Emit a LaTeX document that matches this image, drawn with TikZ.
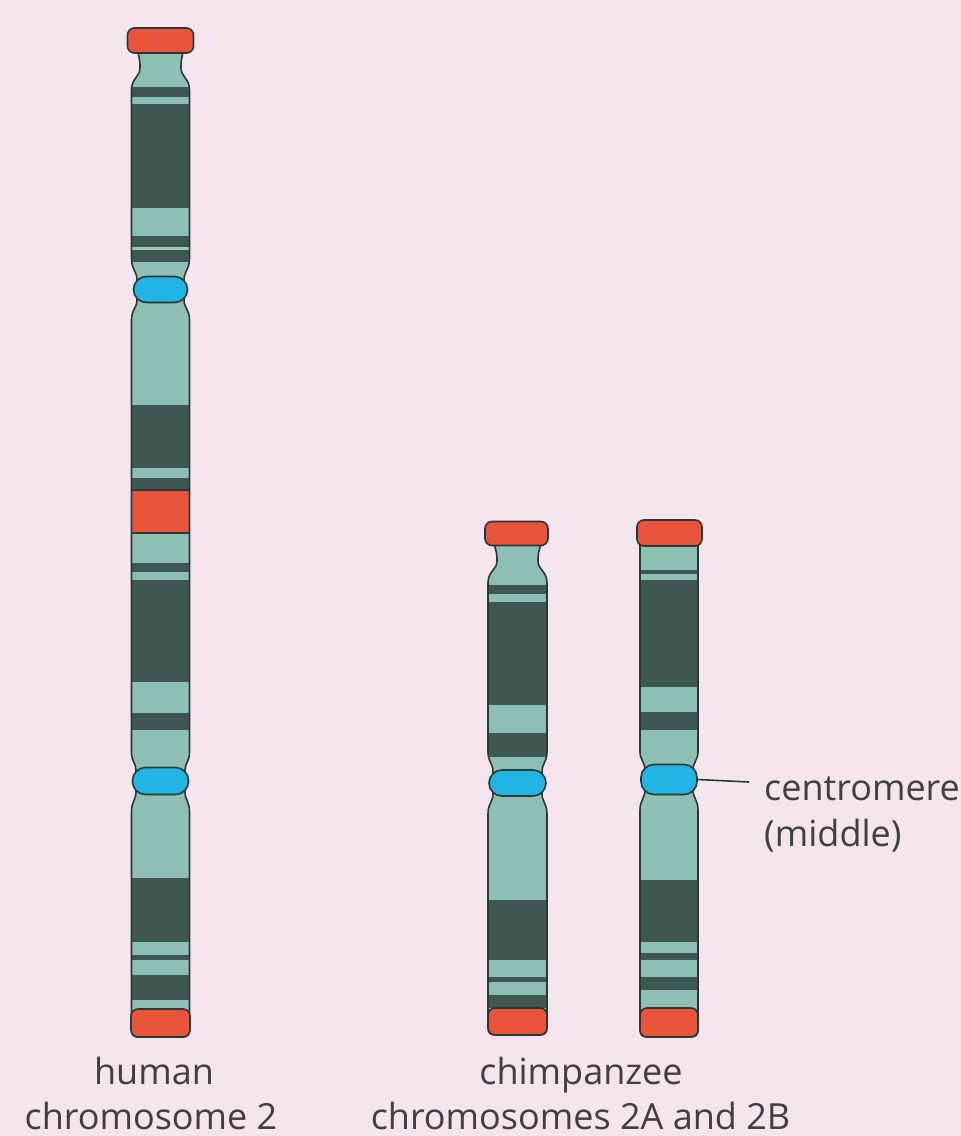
\documentclass[tikz,border=0pt]{standalone}
\usepackage{fontspec}
\setmainfont{Open Sans}
\definecolor{bg}{HTML}{F3E4EE}
\definecolor{bandDark}{HTML}{3E5753}
\definecolor{bandLight}{HTML}{8EBFB4}
\definecolor{capRed}{HTML}{E9543B}
\definecolor{cenBlue}{HTML}{22B4E2}
\definecolor{edge}{HTML}{2C3836}
\definecolor{txt}{HTML}{404040}

% outlines of the three chromosomes (y grows downward)
\def\humanpath{(136.5,48) .. controls (140,58) and (140,63) .. (140,68)
  .. controls (140,77) and (131.5,78) .. (131.5,90)
  -- (131.5,258) .. controls (131.5,270) and (137,271) .. (137,280)
  -- (137,300) .. controls (137,308) and (131.5,309) .. (131.5,320)
  -- (131.5,752) .. controls (131.5,762) and (136,763) .. (136,770)
  -- (136,792) .. controls (136,800) and (131.5,801) .. (131.5,812)
  -- (131.5,1028) .. controls (131.5,1035) and (133,1037) .. (139,1037)
  -- (182,1037) .. controls (188,1037) and (189.5,1035) .. (189.5,1028)
  -- (189.5,812) .. controls (189.5,801) and (185,800) .. (185,792)
  -- (185,770) .. controls (185,763) and (189.5,762) .. (189.5,752)
  -- (189.5,320) .. controls (189.5,309) and (184,308) .. (184,300)
  -- (184,280) .. controls (184,271) and (189.5,270) .. (189.5,258)
  -- (189.5,90) .. controls (189.5,78) and (181,77) .. (181,68)
  .. controls (181,63) and (181,58) .. (184.5,48) -- cycle}
\def\chimpApath{(493.5,543) .. controls (497,552) and (497,556) .. (497,561)
  .. controls (497,570) and (488,571) .. (488,583)
  -- (488,752) .. controls (488,762) and (493,763) .. (493,772)
  -- (493,794) .. controls (493,802) and (488,803) .. (488,814)
  -- (488,1027) .. controls (488,1033) and (490,1035) .. (496,1035)
  -- (539,1035) .. controls (545,1035) and (547,1033) .. (547,1027)
  -- (547,814) .. controls (547,803) and (542,802) .. (542,794)
  -- (542,772) .. controls (542,763) and (547,762) .. (547,752)
  -- (547,583) .. controls (547,571) and (538,570) .. (538,561)
  .. controls (538,556) and (538,552) .. (541.5,543) -- cycle}
\def\chimpBpath{(640,535)
  -- (640,752) .. controls (640,760) and (645,762) .. (645,770)
  -- (645,790) .. controls (645,798) and (640,800) .. (640,810)
  -- (640,1029) .. controls (640,1035) and (642,1037) .. (648,1037)
  -- (690,1037) .. controls (696,1037) and (698,1035) .. (698,1029)
  -- (698,810) .. controls (698,800) and (693,798) .. (693,790)
  -- (693,770) .. controls (693,762) and (698,760) .. (698,752)
  -- (698,535) -- cycle}

\begin{document}
\begin{tikzpicture}[x=1pt,y=-1pt,
  outline/.style={draw=edge, line width=1.6pt},
  capbox/.style={rectangle, fill=capRed, draw=edge, line width=1.6pt,
    rounded corners=7pt, inner sep=0pt},
  cenbox/.style={rectangle, fill=cenBlue, draw=edge, line width=1.6pt,
    rounded corners=13pt, inner sep=0pt},
  lbl/.style={text=txt, font=\fontsize{36}{46}\selectfont, anchor=base,
    inner sep=0pt}]

% page
\fill[bg] (0,0) rectangle (961,1136);
\useasboundingbox (0,0) rectangle (961,1136);

% ---------- human chromosome 2 ----------
\begin{scope}
  \clip \humanpath;
  \fill[bandLight] (120,40) rectangle (200,1040);
  \foreach \a/\b in {87/97, 104/208, 236/262, 405/468, 478/490, 563/572,
                     580/682, 713/730, 878/942, 955/960, 975/1000}
    \fill[bandDark] (120,\a) rectangle (200,\b);
  \fill[bandLight!85!white] (120,247) rectangle (200,250);
  \fill[capRed] (120,490) rectangle (200,533);
  \draw[edge, line width=1.4pt] (120,490) -- (200,490) (120,533) -- (200,533);
\end{scope}
\draw[outline] \humanpath;
\node[capbox, minimum width=66pt, minimum height=25pt] (hTop) at (160.5,40.5) {};
\node[capbox, minimum width=59pt, minimum height=28pt] (hBot) at (160.5,1023) {};
\node[cenbox, minimum width=54pt, minimum height=26pt] (hCenA) at (160.5,289.5) {};
\node[cenbox, minimum width=56pt, minimum height=27pt] (hCenB) at (160.5,781) {};

% ---------- chimpanzee chromosome 2A ----------
\begin{scope}
  \clip \chimpApath;
  \fill[bandLight] (480,530) rectangle (560,1040);
  \foreach \a/\b in {585/594, 602/705, 733/757, 900/960, 977/982, 995/1008}
    \fill[bandDark] (480,\a) rectangle (560,\b);
\end{scope}
\draw[outline] \chimpApath;
\node[capbox, minimum width=63pt, minimum height=24pt] (aTop) at (516.5,533.5) {};
\node[capbox, minimum width=59pt, minimum height=27pt] (aBot) at (517.5,1021.5) {};
\node[cenbox, minimum width=57pt, minimum height=26pt] (aCen) at (517.5,783) {};

% ---------- chimpanzee chromosome 2B ----------
\begin{scope}
  \clip \chimpBpath;
  \fill[bandLight] (630,530) rectangle (710,1040);
  \foreach \a/\b in {570/574, 580/687, 712/730, 880/942, 953/960, 977/990}
    \fill[bandDark] (630,\a) rectangle (710,\b);
\end{scope}
\draw[outline] \chimpBpath;
\node[capbox, minimum width=65pt, minimum height=26pt] (bTop) at (669.5,533) {};
\node[capbox, minimum width=58pt, minimum height=29pt] (bBot) at (669,1022.5) {};
\node[cenbox, minimum width=56pt, minimum height=30pt] (bCen) at (669,779.5) {};

% ---------- labels ----------
\node[lbl] (hum1) at (154,1084) {human};
\node[lbl] (hum2) at (151,1129) {chromosome 2};
\node[lbl] (chimp1) at (581,1084) {chimpanzee};
\node[lbl] (chimp2) at (580.5,1129) {chromosomes 2A and 2B};
\node[lbl, anchor=base west] (cen1) at (764,800) {centromere};
\node[lbl, anchor=base west] (cen2) at (764,846) {(middle)};
\coordinate (cenTick) at (749,782);
\draw[edge, line width=1.6pt] (bCen.east) -- (cenTick);
\end{tikzpicture}
\end{document}
